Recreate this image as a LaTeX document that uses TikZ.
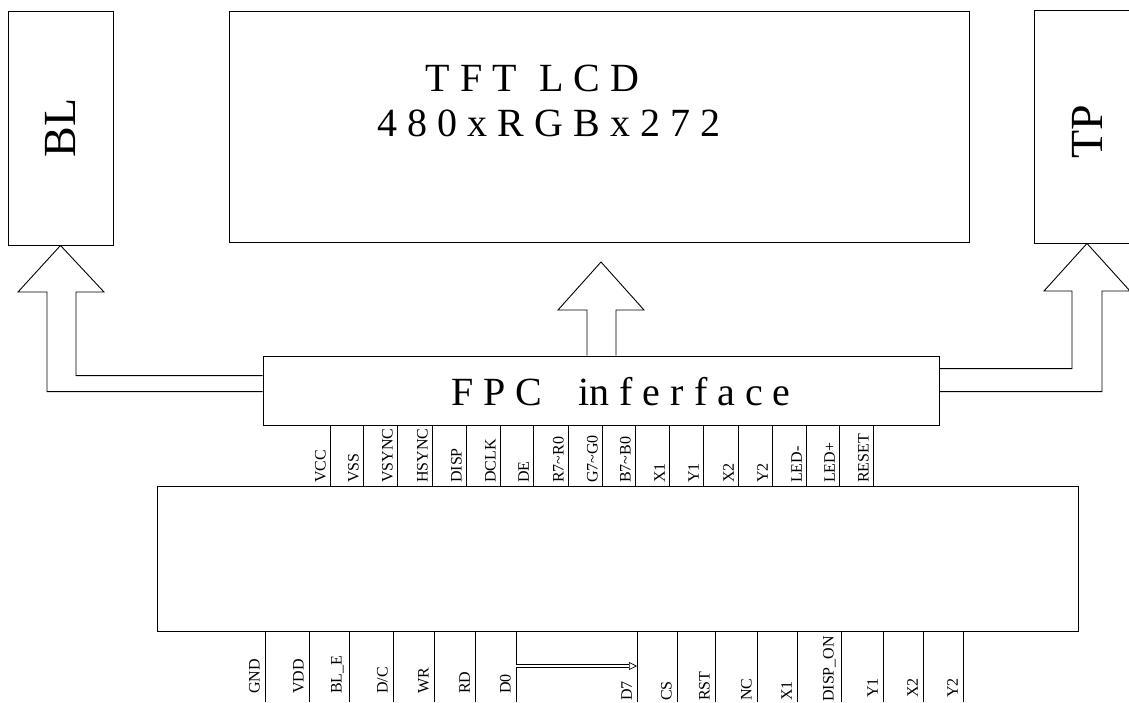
\documentclass[tikz,border=0pt]{standalone}
\usepackage{fontspec}
\setmainfont{Liberation Serif}
\usetikzlibrary{arrows.meta, calc}

\begin{document}
\begin{tikzpicture}[
    x=1pt, y=-1pt,
    box/.style={rectangle, draw, line width=0.9pt, inner sep=0pt},
    bigtext/.style={font=\fontsize{40}{45}\selectfont, inner sep=0pt, align=center},
    sidetext/.style={font=\fontsize{46}{50}\selectfont, inner sep=0pt, rotate=90},
    pinlabel/.style={font=\fontsize{16}{18}\selectfont, rotate=90,
                     anchor=south west, inner sep=0pt},
    pin/.style={line width=0.9pt},
    fatarrow/.style={draw, line width=0.9pt, line join=miter},
    bus/.style={double, double distance=2.5pt, line width=0.7pt,
                -{Triangle[open, length=8pt, width=8pt]}}
]
    \useasboundingbox (0,0) rectangle (1129,702);

    % blocks
    \node[box, minimum width=105pt, minimum height=234pt] (bl) at (60.5,128) {};
    \node[sidetext] (bltext) at (bl.center) {BL};
    \node[box, minimum width=740pt, minimum height=231pt] (lcd) at (599,126.5) {};
    \node[bigtext] (lcdtext) at (549,101)
        {T F T\hspace{0.55em}L C D\hspace*{33pt}\\4\ 8\ 0\ x\ R\ G\ B\ x\ 2\ 7\ 2};
    \node[box, minimum width=106pt, minimum height=233pt] (tp) at (1087,126.5) {};
    \node[sidetext, xshift=-5pt] (tptext) at (tp.center) {TP};
    \node[box, minimum width=676pt, minimum height=69pt] (fpc) at (601,390.5) {};
    \node[bigtext] (fpctext) at (621,391.5) {F P C\hspace{0.9em}in f e r f a c e};
    \node[box, minimum width=921pt, minimum height=145pt] (board) at (617.5,558.5) {};

    % hollow arrows
    \draw[fatarrow] ($(fpc.north west)+(0,36)$) -| (47,292) -- (18,292) -- (bl.south)
        -- (104,292) -- (76,292) |- ($(fpc.north west)+(0,20)$);
    \draw[fatarrow] ($(fpc.north)+(-14,0)$) -- (587,310) -- (558,310) -- (601,262)
        -- (644,310) -- (616,310) -- ($(fpc.north)+(15,0)$);
    \draw[fatarrow] ($(fpc.north east)+(0,36)$) -| (1102,291) -- (1130,291) -- (tp.south)
        -- (1044,291) -- (1072,291) |- ($(fpc.north east)+(0,13)$);

    % FPC pins
    \foreach \x/\name [count=\i] in {330/VCC, 363/VSS, 397/VSYNC, 432/HSYNC, 466/DISP,
        500/DCLK, 533/DE, 568/R7\textasciitilde R0, 602/G7\textasciitilde G0,
        635/B7\textasciitilde B0, 669/X1, 703/Y1, 738/X2, 772/Y2, 806/LED-, 839/LED+,
        873/RESET} {
        \draw[pin] (\x,0 |- fpc.south) -- (\x,0 |- board.north);
        \node[pinlabel] (tl\i) at (\x-4,483) {\name};
    }

    % board pins
    \foreach \x/\y/\name [count=\i] in {265/694/GND, 309/694/VDD, 349/694/BL\_E,
        393/694/{D/C}, 434/694/WR, 475/694/RD, 516/694/D0, 637/701/D7, 677/701/CS,
        715/701/RST, 757/701/NC, 797/701/X1, 841/702/DISP\_ON, 883/698/Y1,
        923/698/X2, 963/698/Y2} {
        \draw[pin] (\x,0 |- board.south) -- (\x,702);
        \coordinate (bus\i) at (\x,666);
        \node[pinlabel] (bl\i) at (\x-5,\y) {\name};
    }
    \draw[bus] (bus7) -- (bus8);
\end{tikzpicture}
\end{document}
